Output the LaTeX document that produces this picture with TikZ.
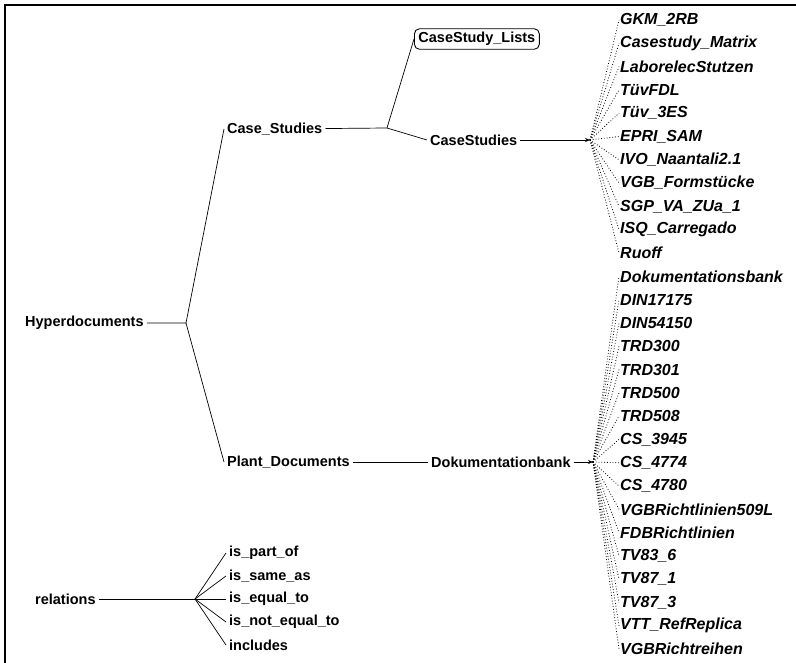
\documentclass[tikz,border=0pt]{standalone}
\usepackage{fontspec}
\setmainfont{Liberation Sans}
\usetikzlibrary{arrows.meta}
\tikzset{
  hd/.style={anchor=west,inner sep=3pt,font=\bfseries\fontsize{14.5}{17}\selectfont},
  leaf/.style={anchor=west,inner sep=1pt,font=\bfseries\itshape\fontsize{16}{19}\selectfont},
  fan/.style={dotted,line width=0.8pt},
  link/.style={line width=0.7pt},
  tip/.style={link,-{Stealth[length=5pt,width=4pt]}}
}
\begin{document}
\begin{tikzpicture}[x=1pt,y=-1pt]
 \useasboundingbox (0,0) rectangle (796,663);
 \draw [line width=1.3pt] (5,663) -- (5,5) -- (796,5);
 % tree of the hyperdocuments
 \node [hd] (hyper) at (22,323) {Hyperdocuments};
 \coordinate (j0) at (186,323);
 \node [hd] (cases) at (224,129) {Case\_Studies};
 \coordinate (j1) at (387,128);
 \node [hd,draw,rounded corners=5pt,inner xsep=4pt,inner ysep=3.5pt,line width=0.9pt] (lists) at (414,39) {CaseStudy\_Lists};
 \node [hd] (studies) at (427,140) {CaseStudies};
 \coordinate (j2) at (590,140);
 \node [hd] (plant) at (224,462) {Plant\_Documents};
 \node [hd] (dbank) at (428,462) {Dokumentationbank};
 \coordinate (j3) at (593,462);
 \draw [link] (hyper) -- (j0) -- (cases.west);
 \draw [link] (j0) -- (plant.west);
 \draw [link] (cases) -- (j1) -- (lists.west);
 \draw [link] (j1) -- (studies.west);
 \draw [tip] (studies) -- (j2);
 \draw [link] (plant) -- (dbank);
 \draw [tip] (dbank) -- (j3);
 % the documents
 \foreach \t [count=\i] in {GKM\_2RB,Casestudy\_Matrix,LaborelecStutzen,TüvFDL,Tüv\_3ES,EPRI\_SAM,IVO\_Naantali2.1,VGB\_Formstücke,SGP\_VA\_ZUa\_1,ISQ\_Carregado,Ruoff,Dokumentationsbank,DIN17175,DIN54150,TRD300,TRD301,TRD500,TRD508,CS\_3945,CS\_4774,CS\_4780,VGBRichtlinien509L,FDBRichtlinien,TV83\_6,TV87\_1,TV87\_3,VTT\_RefReplica,VGBRichtreihen}
   \node [leaf] (d\i) at (619,{20+(\i-1)*23.3}) {\t};
 \foreach \i in {1,...,11}
   \draw [fan] (j2) -- (d\i.west);
 \foreach \i in {12,...,28}
   \draw [fan] (j3) -- (d\i.west);
 % relations
 \node [hd] (rel) at (32,599) {relations};
 \coordinate (j4) at (195,599);
 \draw [link] (rel) -- (j4);
 \foreach \t [count=\i] in {is\_part\_of,is\_same\_as,is\_equal\_to,is\_not\_equal\_to,includes} {
   \node [hd] (r\i) at (226,{553+(\i-1)*23}) {\t};
   \draw [link] (j4) -- (r\i.west);
 }
\end{tikzpicture}
\end{document}
